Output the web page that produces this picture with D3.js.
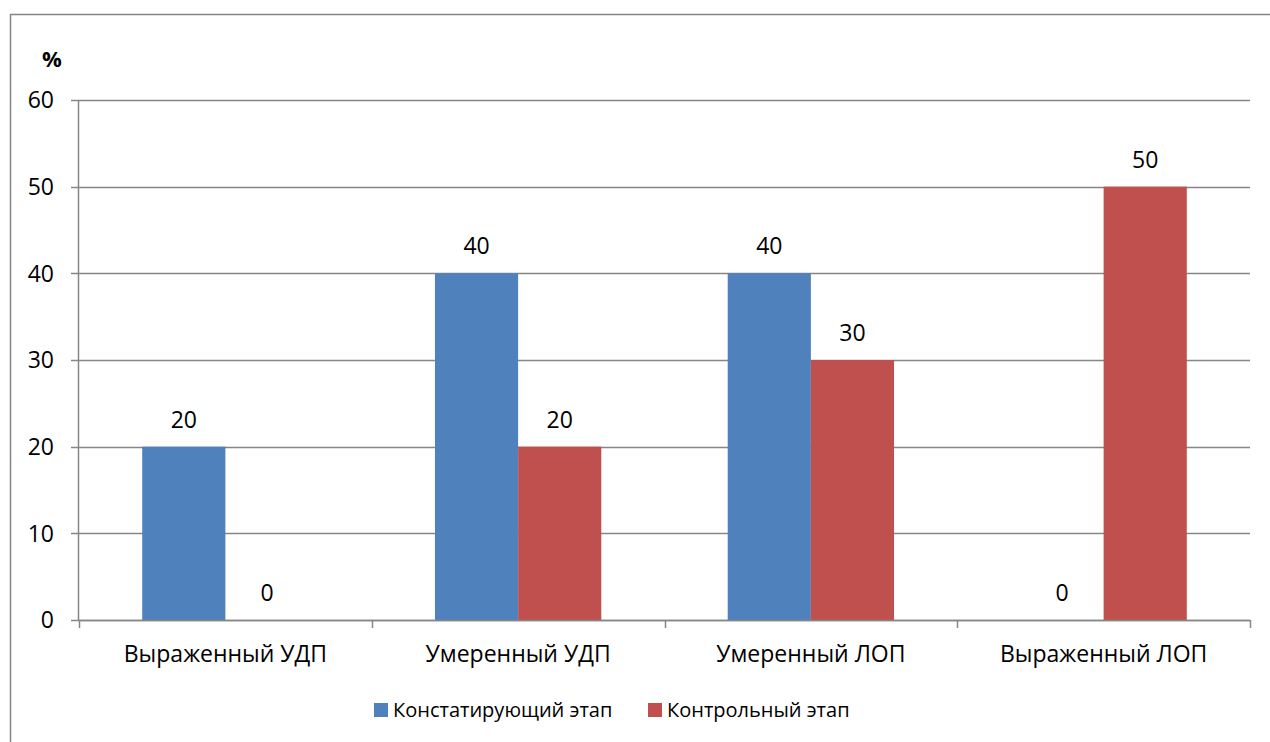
<!DOCTYPE html>
<html>
<head>
<meta charset="utf-8">
<script src="https://cdn.jsdelivr.net/npm/d3@7"></script>
<style>
  body { margin: 0; background: #fff; }
  text { font-family: "Open Sans", "Noto Sans", sans-serif; fill: #000; }
</style>
</head>
<body>
<div id="chart"></div>
<script>
// chart data
const categories = ["Выраженный УДП", "Умеренный УДП", "Умеренный ЛОП", "Выраженный ЛОП"];
const seriesNames = ["Констатирующий этап", "Контрольный этап"];
const seriesColors = ["#4F81BD", "#C0504D"];
const stage1 = [20, 40, 40, 0];
const stage2 = [0, 20, 30, 50];
const yTicks = [0, 10, 20, 30, 40, 50, 60];

const W = 1270, H = 742;

const svg = d3.select("#chart").append("svg")
    .attr("width", W).attr("height", H);

// outer frame
svg.append("rect")
    .attr("x", 10.5).attr("y", 14.5)
    .attr("width", W).attr("height", H)
    .attr("fill", "none").attr("stroke", "#868686").attr("stroke-width", 1.5);

const x = d3.scaleBand().domain(categories).range([79, 1250]).paddingInner(0).paddingOuter(0);
const x1 = d3.scaleBand().domain([0, 1]).range([0, x.bandwidth()]).paddingInner(0).paddingOuter(0.76);
const y = d3.scaleLinear().domain([0, 60]).range([620, 100]);

// gridlines
svg.append("g").selectAll("line").data(yTicks).enter().append("line")
    .attr("x1", 71).attr("x2", 1250)
    .attr("y1", d => Math.round(y(d)) + 0.5).attr("y2", d => Math.round(y(d)) + 0.5)
    .attr("stroke", "#868686").attr("stroke-width", 1.5);

// y axis line
svg.append("line")
    .attr("x1", 78.5).attr("x2", 78.5).attr("y1", 100).attr("y2", 620)
    .attr("stroke", "#868686").attr("stroke-width", 1.5);

// y tick labels
svg.append("g").selectAll("text").data(yTicks).enter().append("text")
    .attr("x", 54).attr("y", d => y(d))
    .attr("dy", "0.36em").attr("text-anchor", "end")
    .style("font-size", "23px")
    .text(d => d);

svg.append("text").attr("x", 52).attr("y", 67)
    .attr("text-anchor", "middle")
    .style("font-size", "22px").style("font-weight", "bold")
    .text("%");

// bars
const series = [stage1, stage2];
series.forEach((vals, si) => {
  const g = svg.append("g");
  g.selectAll("rect").data(vals).enter().append("rect")
      .attr("x", (d, i) => x(categories[i]) + x1(si))
      .attr("width", x1.bandwidth())
      .attr("y", d => y(d))
      .attr("height", d => y(0) - y(d))
      .attr("fill", seriesColors[si]);
  g.selectAll("text").data(vals).enter().append("text")
      .attr("x", (d, i) => x(categories[i]) + x1(si) + x1.bandwidth() / 2)
      .attr("y", d => y(d) - 19)
      .attr("text-anchor", "middle")
      .style("font-size", "23px")
      .text(d => d);
});

// x axis
svg.append("line")
    .attr("x1", 79).attr("x2", 1250).attr("y1", 620.5).attr("y2", 620.5)
    .attr("stroke", "#868686").attr("stroke-width", 1.5);
const xTickPos = categories.map(c => x(c)).concat([x.range()[1]]);
svg.append("g").selectAll("line").data(xTickPos).enter().append("line")
    .attr("x1", d => Math.round(d) + 0.5).attr("x2", d => Math.round(d) + 0.5)
    .attr("y1", 620).attr("y2", 628)
    .attr("stroke", "#868686").attr("stroke-width", 1.5);

svg.append("g").selectAll("text").data(categories).enter().append("text")
    .attr("x", d => x(d) + x.bandwidth() / 2)
    .attr("y", 662)
    .attr("text-anchor", "middle")
    .style("font-size", "23px")
    .text(d => d);

// legend
const legendX = [374, 648];
const legend = svg.append("g").selectAll("g").data(seriesNames).enter().append("g")
    .attr("transform", (d, i) => `translate(${legendX[i]},703)`);
legend.append("rect").attr("width", 14).attr("height", 14)
    .attr("fill", (d, i) => seriesColors[i]);
legend.append("text").attr("x", 19).attr("y", 14)
    .style("font-size", "20px")
    .text(d => d);
</script>
</body>
</html>
